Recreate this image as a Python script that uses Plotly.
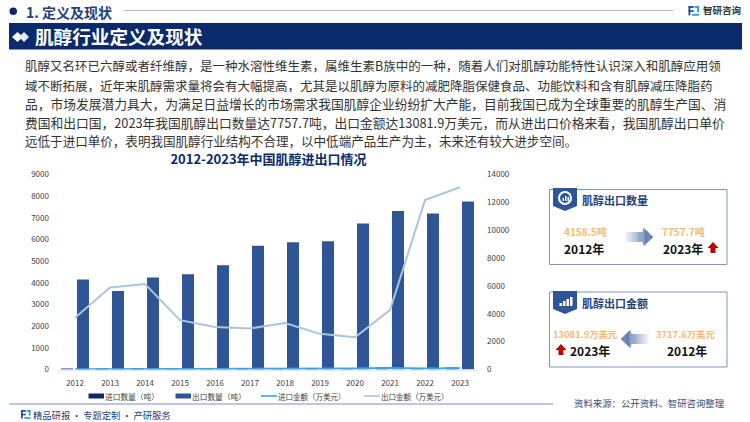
import plotly.graph_objects as go

years = ["2012","2013","2014","2015","2016","2017","2018","2019","2020","2021","2022","2023"]
import_qty = [5, 5, 5, 5, 5, 5, 5, 5, 10, 60, 40, 50]
export_qty = [4158.5, 3620, 4250, 4400, 4810, 5715, 5870, 5925, 6740, 7310, 7205, 7757.7]
import_amt = [15, 20, 20, 20, 15, 10, 20, 30, 70, 110, 70, 90]
export_amt = [3717.6, 5890, 6130, 3540, 3060, 2945, 3330, 2560, 2320, 4260, 12160, 13081.9]

CM = "\uff0c"
body_lines = [
    f"肌醇又名环已六醇或者纤维醇{CM}是一种水溶性维生素{CM}属维生素B族中的一种{CM}随着人们对肌醇功能特性认识深入和肌醇应用领",
    f"域不断拓展{CM}近年来肌醇需求量将会有大幅提高{CM}尤其是以肌醇为原料的减肥降脂保健食品、功能饮料和含有肌醇减压降脂药",
    f"品{CM}市场发展潜力具大{CM}为满足日益增长的市场需求我国肌醇企业纷纷扩大产能{CM}目前我国已成为全球重要的肌醇生产国、消",
    f"费国和出口国{CM}2023年我国肌醇出口数量达7757.7吨{CM}出口金额达13081.9万美元{CM}而从进出口价格来看{CM}我国肌醇出口单价",
    f"远低于进口单价{CM}表明我国肌醇行业结构不合理{CM}以中低端产品生产为主{CM}未来还有较大进步空间。",
]
legend_names = ["进口数量\uff08吨\uff09", "出口数量\uff08吨\uff09", "进口金额\uff08万美元\uff09", "出口金额\uff08万美元\uff09"]

W, H = 750, 422
NAVY = "#0B2A6B"
BLUE = "#2F5597"
FONT = "Noto Sans CJK SC"
px = lambda x: x / W
py = lambda y: 1 - y / H

shapes, annos = [], []

def text(x, y, s, size, color, anchor="left", bold=False):
    annos.append(dict(x=px(x), y=py(y), xref="paper", yref="paper", text=f"<b>{s}</b>" if bold else s,
                      showarrow=False, xanchor=anchor, yanchor="middle",
                      font=dict(size=size, color=color, family=FONT), borderpad=0, borderwidth=0))

def rect(x0, y0, x1, y1, fill=None, line=None, lw=1):
    shapes.append(dict(type="rect", xref="paper", yref="paper", x0=px(x0), x1=px(x1), y0=py(y0), y1=py(y1),
                       fillcolor=fill or "rgba(0,0,0,0)", line=dict(color=line or "rgba(0,0,0,0)", width=lw if line else 0)))

def poly(points, fill):
    d = "M" + " L".join(f"{px(a):.5f},{py(b):.5f}" for a, b in points) + " Z"
    shapes.append(dict(type="path", xref="paper", yref="paper", path=d, fillcolor=fill, line=dict(width=0)))

def hline(x0, x1, y, color, lw=1):
    shapes.append(dict(type="line", xref="paper", yref="paper", x0=px(x0), x1=px(x1), y0=py(y), y1=py(y),
                       line=dict(color=color, width=lw)))

def logo(x, y, s=1.0):
    rect(x, y, x + 5*s, y + 1.8*s, "#1F4E9E"); rect(x, y, x + 1.8*s, y + 9*s, "#1F4E9E")
    rect(x, y + 4*s, x + 5*s, y + 5.6*s, "#1F4E9E")
    rect(x + 6*s, y, x + 10*s, y + 1.8*s, "#2E9BE0"); rect(x + 8.2*s, y, x + 10*s, y + 6*s, "#2E9BE0")
    rect(x + 3.5*s, y + 7.5*s, x + 10*s, y + 9.3*s, "#2E9BE0")

def grad_arrow(x0, x1, ytop, ybot, head_x):
    n = 24
    mid = (ytop + ybot) / 2
    half_shaft = (ybot - ytop) / 4
    half_head = (ybot - ytop) / 2
    def half(x):
        t = (x - head_x) / (x1 - head_x)
        if t >= 0:
            return half_head * (1 - t)
        return half_shaft
    for i in range(n):
        a = x0 + (x1 - x0) * i / n
        b = x0 + (x1 - x0) * (i + 1) / n
        op = 0.04 + 0.96 * ((i + 0.5) / n) ** 1.1
        ha, hb = half(a), half(b)
        if (a - head_x) * (b - head_x) < 0:
            ha = half_shaft
        poly([(a, mid - ha), (b, mid - hb), (b, mid + hb), (a, mid + ha)], f"rgba(47,85,151,{op:.3f})")

def red_arrow(x, y):
    poly([(x + 5, y), (x + 10.5, y + 6), (x + 7.5, y + 6), (x + 7.5, y + 11), (x + 2.5, y + 11),
          (x + 2.5, y + 6), (x - 0.5, y + 6)], "#C00000")

# ---- page header
shapes.append(dict(type="circle", xref="paper", yref="paper", x0=px(9.5), x1=px(17), y0=py(15), y1=py(7.5),
                   fillcolor=NAVY, line=dict(width=0)))
text(26, 11.5, "1. 定义及现状", 14, "#1F3F7F", bold=True)
hline(124, 673, 10.5, "#A9B5D6", 1.2)
logo(688.5, 6, 1.05)
text(703, 10.5, "智研咨询", 9.5, "#333333", bold=True)
rect(9, 23, 742, 49.5, NAVY)
poly([(12, 37), (17.5, 32), (23, 37), (17.5, 42)], "#FFFFFF")
poly([(19, 37), (24, 32), (29, 37), (24, 42)], "#E4E8F2")
text(34.5, 35.5, "肌醇行业定义及现状", 18.6, "#FFFFFF", bold=True)

# ---- body text
for line, y, size in zip(body_lines, [66, 85, 103.5, 122.5, 141], [12.5, 12.5, 12.75, 12.75, 12.55]):
    text(25, y, line, size, "#333333")

# ---- boxes
rect(549.5, 189.5, 727, 264.5, "#FFFFFF", "#7F96C4", 1)
rect(549.5, 292, 727, 367, "#FFFFFF", "#7F96C4", 1)
for top in (188, 291):
    poly([(553, top), (577, top), (577, top + 18), (565, top + 23), (553, top + 18)], BLUE)
shapes.append(dict(type="circle", xref="paper", yref="paper", x0=px(559), x1=px(571), y0=py(204), y1=py(192),
                   fillcolor="rgba(0,0,0,0)", line=dict(color="#FFFFFF", width=2)))
for x, h in ((562.5, 3), (565, 5), (567.5, 4)):
    rect(x, 201 - h, x + 1.5, 201, "#FFFFFF")
for x, h in ((559.5, 3), (563, 5), (566.5, 7), (570, 9)):
    rect(x, 306 - h, x + 2.5, 306, "#FFFFFF")

text(582, 199.5, "肌醇出口数量", 11, "#1F3F7F", bold=True)
text(582, 302.5, "肌醇出口金额", 11, "#1F3F7F", bold=True)

ORANGE = "#F9B96E"
text(585, 231, "4158.5吨", 10, ORANGE, "center", True)
text(683, 231, "7757.7吨", 10, ORANGE, "center", True)
text(584, 248.5, "2012年", 12, "#111111", "center", True)
text(683, 248.5, "2023年", 12, "#111111", "center", True)
text(585, 334, "13081.9万美元", 9.4, ORANGE, "center", True)
text(685, 334, "3717.6万美元", 9.4, ORANGE, "center", True)
text(590, 350, "2023年", 12, "#111111", "center", True)
text(687, 350, "2012年", 12, "#111111", "center", True)
grad_arrow(625, 653, 227, 247, 643)
grad_arrow(649, 621, 329, 349, 631)
red_arrow(708, 242)
red_arrow(556, 344)

# ---- legend row, drawn to the reference's spacing
rect(88.5, 393.5, 104, 398.5, NAVY)
rect(175.5, 393.5, 191, 398.5, BLUE)
hline(261, 277, 396, "#2FA8EE", 1.6)
hline(364, 380, 396, "#A9C6DD", 1.6)
for x, name, size in zip((105, 192, 278, 381), legend_names, (7.7, 7.7, 7.5, 7.5)):
    text(x, 396, name, size, "#404040")

# ---- footer
hline(9, 553, 404, "#A9B5D6", 1.5)
logo(21, 410, 0.95)
text(33, 415, "精品研报\u2009·\u2009专题定制\u2009·\u2009产研服务", 9.3, "#1F3F7F")
text(574, 403, "资料来源\uff1a公开资料、智研咨询整理", 9.4, "#3A4A7A")

fig = go.Figure()
fig.add_bar(x=years, y=import_qty, name=legend_names[0], marker=dict(color=NAVY, line=dict(width=0)), yaxis="y")
fig.add_bar(x=years, y=export_qty, name=legend_names[1], marker=dict(color=BLUE, line=dict(width=0)), yaxis="y")
fig.add_scatter(x=years, y=import_amt, name=legend_names[2], mode="lines", yaxis="y2",
                line=dict(color="#2FA8EE", width=2))
fig.add_scatter(x=years, y=export_amt, name=legend_names[3], mode="lines", yaxis="y2",
                line=dict(color="#A9C6DD", width=2))

tickfont = dict(size=8, color="#404040", family=FONT)
fig.update_layout(
    width=W, height=H, autosize=False, margin=dict(l=0, r=0, t=0, b=0, autoexpand=False),
    paper_bgcolor="#FFFFFF", plot_bgcolor="rgba(0,0,0,0)",
    font=dict(family=FONT), showlegend=False,
    title=dict(text="<b>2012-2023年中国肌醇进出口情况</b>", x=268.5 / W, xanchor="center", xref="paper",
               y=py(159.5), yanchor="middle", yref="paper", font=dict(size=13, color=NAVY, family=FONT)),
    barmode="group", bargap=0.0857, bargroupgap=0.25,
    xaxis=dict(domain=[px(57.5), px(477.5)], anchor="y", type="category", showgrid=False, showline=True,
               linecolor="#E6E6E6", linewidth=1, ticks="outside", ticklen=6, tickcolor="rgba(0,0,0,0)",
               tickfont=tickfont),
    yaxis=dict(domain=[py(369.5), py(174.5)], range=[0, 9000], dtick=1000, showgrid=False, zeroline=False,
               showline=False, ticks="outside", ticklen=6, tickcolor="rgba(0,0,0,0)", tickfont=tickfont),
    yaxis2=dict(domain=[py(369.5), py(174.5)], range=[0, 14000], dtick=2000, tickformat="d", overlaying="y",
                side="right", anchor="x", showgrid=False, zeroline=False, showline=False, ticks="outside",
                ticklen=7, tickcolor="rgba(0,0,0,0)", tickfont=tickfont),
    shapes=shapes, annotations=annos,
)
fig.write_html("out.html", config=dict(displayModeBar=False), post_script="document.body.style.margin='0';")
